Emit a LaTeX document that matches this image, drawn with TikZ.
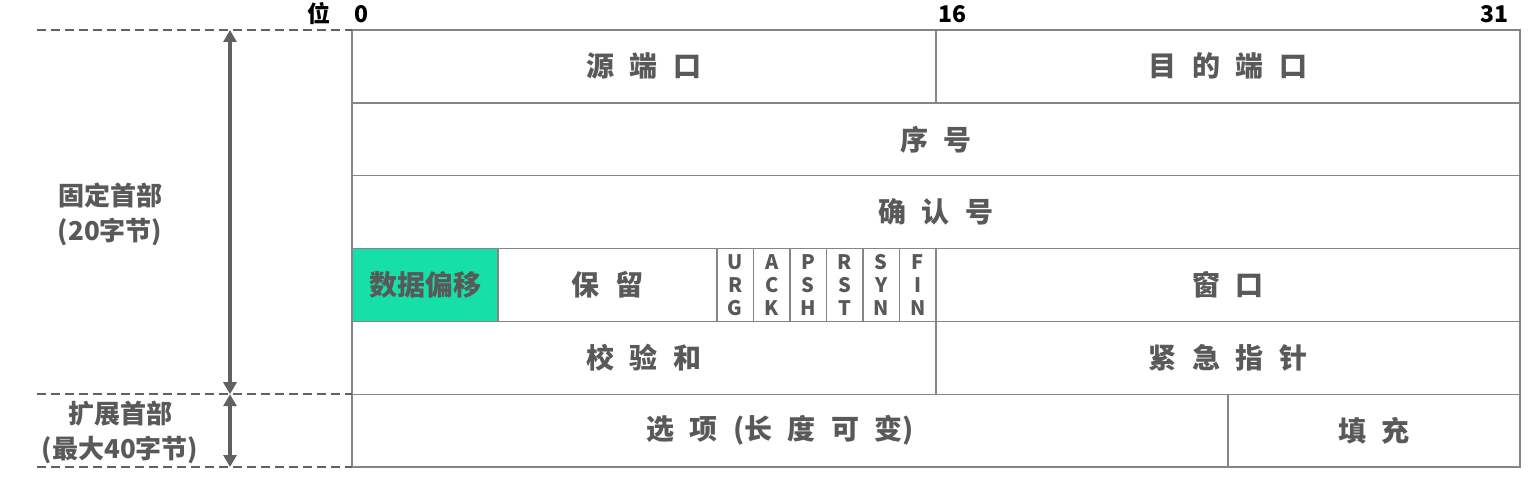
\documentclass[tikz,border=0pt]{standalone}
\usepackage{fontspec}
\setmainfont{Noto Sans CJK SC}[WordSpace=2.4]
\usetikzlibrary{arrows.meta}

\definecolor{txtgrau}{HTML}{595959}
\definecolor{liniengrau}{HTML}{858585}
\definecolor{pfeilgrau}{HTML}{616161}
\definecolor{tuerkis}{HTML}{16DFA7}

\tikzset{
  feld/.style={text=txtgrau, font=\fontsize{28}{32}\selectfont\bfseries},
  flagge/.style={text=txtgrau, font=\fontsize{20}{23}\selectfont\bfseries, align=center},
  seite/.style={text=txtgrau, font=\fontsize{26}{35}\selectfont\bfseries, align=center},
  bitnr/.style={text=black, font=\fontsize{23}{26}\selectfont\bfseries},
  gitter/.style={draw=liniengrau, line width=1.4pt},
  strich/.style={draw=pfeilgrau, line width=1.8pt, dash pattern=on 9pt off 5pt},
  doppelpfeil/.style={draw=pfeilgrau, line width=4pt,
    {Triangle[length=12pt,width=13pt]}-{Triangle[length=12pt,width=13pt]}}
}

\begin{document}
\begin{tikzpicture}[x=1pt,y=-1pt]
\useasboundingbox (0,0) rectangle (1539,487);

% Datenoffset
\fill[tuerkis] (352,248.5) rectangle (498,321.3);

% Rahmen und Zeilen
\draw[gitter] (352,30) rectangle (1520,467);
\draw[gitter] (352,102.8) -- (1520,102.8);
\draw[gitter] (352,175.7) -- (1520,175.7);
\draw[gitter] (352,248.5) -- (1520,248.5);
\draw[gitter] (352,321.3) -- (1520,321.3);
\draw[gitter] (352,394.2) -- (1520,394.2);

% Spalten
\draw[gitter] (936,30) -- (936,102.8);
\draw[gitter] (936,248.5) -- (936,394.2);
\draw[gitter] (498,248.5) -- (498,321.3);
\draw[gitter] (717,248.5) -- (717,321.3);
\draw[gitter] (753.5,248.5) -- (753.5,321.3);
\draw[gitter] (790,248.5) -- (790,321.3);
\draw[gitter] (826.5,248.5) -- (826.5,321.3);
\draw[gitter] (863,248.5) -- (863,321.3);
\draw[gitter] (899.5,248.5) -- (899.5,321.3);
\draw[gitter] (1228,394.2) -- (1228,467);

% Bitnummern
\node[bitnr, anchor=east] (wei) at (334,14) {位};
\node[bitnr, anchor=west] (b0) at (351,14) {0};
\node[bitnr, anchor=west] (b16) at (935,14) {16};
\node[bitnr, anchor=east] (b31) at (1512,14) {31};

% Felder
\node[feld] (quelle) at (644,66.4) {源 端 口};
\node[feld] (ziel) at (1228,66.4) {目 的 端 口};
\node[feld] (seq) at (936,139.3) {序 号};
\node[feld] (ack) at (936,212) {确 认 号};
\node[feld] (offset) at (425,285) {数据偏移};
\node[feld] (reserv) at (607.5,285) {保 留};
\node[feld] (fenster) at (1228,285) {窗 口};
\node[feld] (pruef) at (644,357.8) {校 验 和};
\node[feld] (urgptr) at (1228,357.8) {紧 急 指 针};
\node[feld] (optionen) at (780,430.6) {选 项 (长 度 可 变)};
\node[feld] (fuell) at (1374,430.6) {填 充};

% Flags
\node[flagge] (urg) at (735.25,285) {U\\R\\G};
\node[flagge] (fack) at (771.75,285) {A\\C\\K};
\node[flagge] (psh) at (808.25,285) {P\\S\\H};
\node[flagge] (rst) at (844.75,285) {R\\S\\T};
\node[flagge] (syn) at (881.25,285) {S\\Y\\N};
\node[flagge] (fin) at (917.75,285) {F\\I\\N};

% Kopfteile links
\draw[strich] (37,30) -- (352,30);
\draw[strich] (37,394.2) -- (352,394.2);
\draw[strich] (37,467) -- (352,467);

\coordinate (oben) at (230,30);
\coordinate (mitte) at (230,394.2);
\coordinate (unten) at (230,467);
\draw[doppelpfeil] (oben) -- (mitte);
\draw[doppelpfeil] (mitte) -- (unten);

\node[seite] (fest) at (110,214) {固定首部\\(20字节)};
\node[seite] (erw) at (120,432) {扩展首部\\(最大40字节)};

\end{tikzpicture}
\end{document}
